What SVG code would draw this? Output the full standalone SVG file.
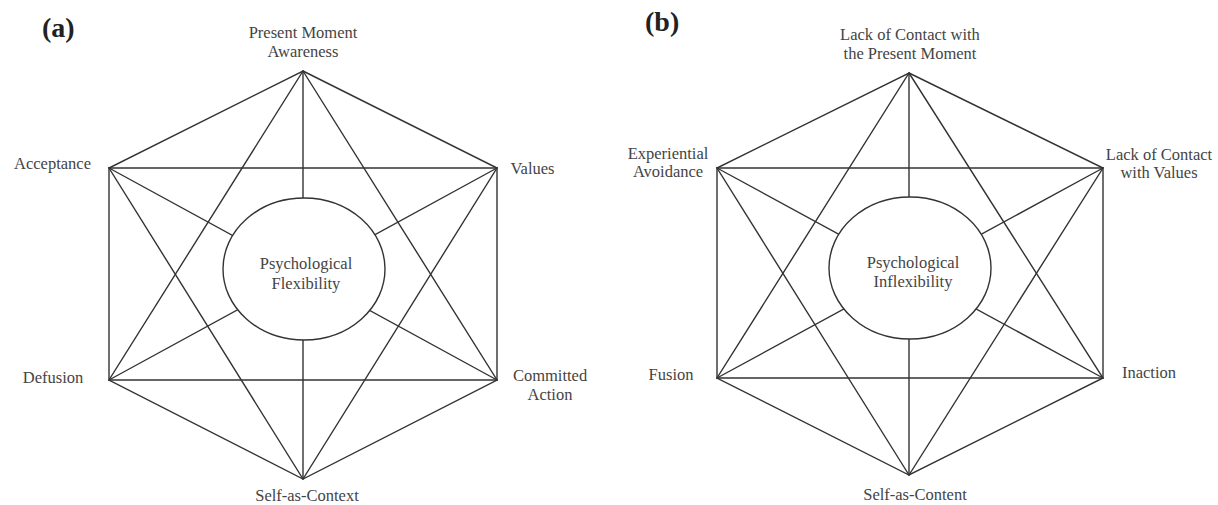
<svg xmlns="http://www.w3.org/2000/svg" width="1218" height="505" viewBox="0 0 1218 505">
<style>
.ln{stroke:#333;stroke-width:1.4;fill:none;stroke-linecap:round}
.el{stroke:#333;stroke-width:1.4;fill:#fff}
.t{font-family:"Liberation Serif","Times New Roman",serif;font-size:16.5px;fill:#444;text-anchor:middle}
.lab{font-family:"Liberation Serif","Times New Roman",serif;font-size:28px;font-weight:bold;fill:#222}
</style>
<rect width="1218" height="505" fill="#fff"/>
<g id="connectors">
<g id="conn-a">
<polygon class="ln" points="303,71 497,168 497,380 303,479 109,380 109,168"/>
<polygon class="ln" points="303,71 497,380 109,380"/>
<polygon class="ln" points="303,479 109,168 497,168"/>
<line class="ln" x1="303" y1="71" x2="303" y2="479"/>
<line class="ln" x1="109" y1="168" x2="497" y2="380"/>
<line class="ln" x1="497" y1="168" x2="109" y2="380"/>
</g>
<g id="conn-b">
<polygon class="ln" points="909,73 1103,168 1103,378 909,475 717,378 717,168"/>
<polygon class="ln" points="909,73 1103,378 717,378"/>
<polygon class="ln" points="909,475 717,168 1103,168"/>
<line class="ln" x1="909" y1="73" x2="909" y2="475"/>
<line class="ln" x1="717" y1="168" x2="1103" y2="378"/>
<line class="ln" x1="1103" y1="168" x2="717" y2="378"/>
</g>
</g>
<text class="lab" x="42" y="37">(a)</text>
<text class="lab" x="645" y="31">(b)</text>
<g id="a-center"><ellipse class="el" cx="304" cy="269" rx="81" ry="71"/><text class="t" x="306" y="269">Psychological</text><text class="t" x="306" y="289">Flexibility</text></g>
<g id="a-present"><text class="t" x="303" y="38">Present Moment</text><text class="t" x="303" y="57">Awareness</text></g>
<g id="a-acceptance"><text class="t" x="52.5" y="169">Acceptance</text></g>
<g id="a-values"><text class="t" x="532.5" y="174">Values</text></g>
<g id="a-defusion"><text class="t" x="53" y="383">Defusion</text></g>
<g id="a-committed"><text class="t" x="550" y="381">Committed</text><text class="t" x="550" y="400">Action</text></g>
<g id="a-self"><text class="t" x="307" y="501">Self-as-Context</text></g>
<g id="b-center"><ellipse class="el" cx="910" cy="268" rx="81" ry="71"/><text class="t" x="913" y="268">Psychological</text><text class="t" x="913" y="287">Inflexibility</text></g>
<g id="b-present"><text class="t" x="910" y="40">Lack of Contact with</text><text class="t" x="910" y="59">the Present Moment</text></g>
<g id="b-avoidance"><text class="t" x="668" y="159">Experiential</text><text class="t" x="668" y="177">Avoidance</text></g>
<g id="b-values"><text class="t" x="1159" y="160">Lack of Contact</text><text class="t" x="1159" y="178">with Values</text></g>
<g id="b-fusion"><text class="t" x="671" y="380">Fusion</text></g>
<g id="b-inaction"><text class="t" x="1149" y="378">Inaction</text></g>
<g id="b-self"><text class="t" x="915" y="500">Self-as-Content</text></g>
</svg>
